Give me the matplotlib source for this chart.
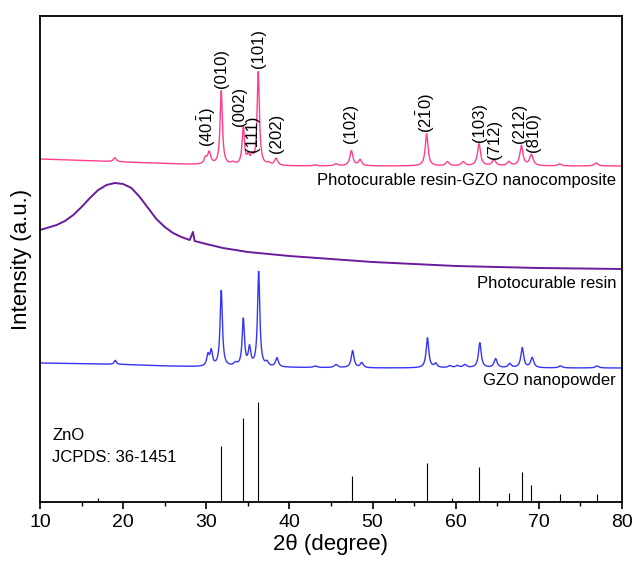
import numpy as np
import matplotlib
matplotlib.use('Agg')
import matplotlib.pyplot as plt
from matplotlib.ticker import MultipleLocator

plt.rcParams['font.family'] = ['Liberation Sans', 'DejaVu Sans']
plt.rcParams['mathtext.fontset'] = 'custom'
plt.rcParams['mathtext.rm'] = 'Liberation Sans'
plt.rcParams['mathtext.it'] = 'Liberation Sans'

# ZnO reference sticks (JCPDS 36-1451)
ref_pos = [17.0, 31.77, 34.42, 36.25, 47.54, 52.7, 56.6, 59.5, 62.86, 66.38, 67.96, 69.1, 72.56, 76.95]
ref_int = [4, 56, 84, 100, 26, 4, 39, 4, 35, 9, 30, 17, 8, 8]

# GZO nanopowder: background + peaks (center, height, fwhm)
gzo_bg_x = [10, 20, 25, 30, 40, 50, 80]
gzo_bg_y = [139, 137.5, 136, 135, 134.5, 134, 134]
gzo_pos = [19.05, 30.2, 30.6, 31.8, 33.5, 34.45, 35.2, 36.3, 37.3, 38.5, 43.1, 45.6, 47.6, 48.7,
           56.6, 57.6, 59.3, 60.2, 61.1, 62.9, 64.8, 66.5, 68.0, 69.2, 72.6, 77.0]
gzo_int = [4, 11, 15, 76, 3, 47, 18, 95, 4, 9, 1.5, 3, 17, 5,
           30, 4, 2, 2, 3, 25, 9, 4, 20, 10, 2, 2]
gzo_fwhm = [0.3, 0.35, 0.35, 0.33, 0.5, 0.33, 0.35, 0.33, 0.4, 0.4, 0.5, 0.5, 0.4, 0.4,
            0.38, 0.4, 0.5, 0.5, 0.5, 0.4, 0.45, 0.45, 0.4, 0.45, 0.5, 0.5]

# Photocurable resin (amorphous hump)
resin_x = [10, 12, 13, 14, 15, 16, 17, 18, 19, 20, 21, 22, 23, 24, 25, 26, 27, 28, 28.4, 28.6,
           30, 32, 35, 40, 45, 50, 55, 60, 65, 70, 75, 80]
resin_y = [272, 277, 281, 287, 295, 304, 312, 317, 319, 318, 314, 305, 294, 283, 275, 269, 265, 262, 270, 261,
           258, 254, 250, 246, 243, 240, 238, 236, 235, 234, 233.5, 233]

# Photocurable resin-GZO nanocomposite
comp_bg_x = [10, 20, 30, 40, 80]
comp_bg_y = [343, 340, 337, 336, 336]
comp_pos = [19.0, 29.9, 30.35, 31.8, 33.2, 34.45, 35.05, 35.5, 36.25, 37.5, 38.4, 43.1, 45.6, 47.45, 48.5,
            56.5, 59.0, 60.9, 62.8, 64.6, 66.4, 67.9, 69.1, 72.5, 76.9]
comp_int = [4, 6, 12, 74, 2, 38, 8, 7, 93, 2, 7, 1, 2, 15, 6,
            32, 4, 4, 22, 6, 4, 20, 11, 2, 3]
comp_fwhm = [0.4, 0.4, 0.45, 0.33, 0.5, 0.33, 0.35, 0.35, 0.33, 0.4, 0.45, 0.5, 0.5, 0.45, 0.45,
             0.4, 0.5, 0.5, 0.45, 0.5, 0.5, 0.45, 0.5, 0.5, 0.5]

# peak labels (text, x, bottom y)
hkl_text = [r'(40$\bar{\mathrm{1}}$)', '(010)', '(002)', '(111)', '(101)', '(202)', '(102)',
            r'(2$\bar{\mathrm{1}}$0)', '(103)', '(712)', '(212)', '(810)']
hkl_x = [30.09, 31.77, 34.05, 35.5, 36.3, 38.4, 47.4, 56.4, 62.9, 64.7, 67.7, 69.3]
hkl_y = [355, 414, 376, 350, 434, 349, 359, 369, 360, 343, 359, 350]


def profile(x, bx, by, pos, hts, wid):
    y = np.interp(x, bx, by)
    for c, h, w in zip(pos, hts, wid):
        y = y + h / (1 + ((x - c) / (w / 2)) ** 2)
    return y


x = np.linspace(10, 80, 4000)

fig = plt.figure(figsize=(6.34, 5.66), dpi=100)
ax = fig.add_axes([40 / 634, 64 / 566, 582 / 634, 486 / 566])

ax.vlines(ref_pos, 0, ref_int, color='black', lw=0.8)
ax.plot(x, profile(x, gzo_bg_x, gzo_bg_y, gzo_pos, gzo_int, gzo_fwhm), color='#3535f5', lw=1.0)
ax.plot(resin_x, resin_y, color='#6a1b9a', lw=1.4)
ax.plot(x, profile(x, comp_bg_x, comp_bg_y, comp_pos, comp_int, comp_fwhm), color='#ff3f8e', lw=1.0)

for t, px, py in zip(hkl_text, hkl_x, hkl_y):
    ax.text(px, py, t, rotation=90, ha='center', va='bottom', fontsize=12)

ax.text(79.3, 322, 'Photocurable resin-GZO nanocomposite', ha='right', va='center', fontsize=12)
ax.text(79.3, 219, 'Photocurable resin', ha='right', va='center', fontsize=12)
ax.text(79.3, 122, 'GZO nanopowder', ha='right', va='center', fontsize=12)
ax.text(11.5, 67, 'ZnO', ha='left', va='center', fontsize=12)
ax.text(11.5, 44, 'JCPDS: 36-1451', ha='left', va='center', fontsize=12)

ax.set_xlim(10, 80)
ax.set_ylim(0, 486)
ax.xaxis.set_major_locator(MultipleLocator(10))
ax.xaxis.set_minor_locator(MultipleLocator(5))
ax.tick_params(axis='x', which='major', direction='out', length=5, width=1.2, labelsize=14, top=False)
ax.tick_params(axis='x', which='minor', direction='out', length=3, width=1.0, top=False)
ax.set_yticks([])
for s in ax.spines.values():
    s.set_linewidth(1.3)

ax.set_xlabel('2θ (degree)', fontsize=16, labelpad=2)
ax.set_ylabel('Intensity (a.u.)', fontsize=16, labelpad=6)

fig.savefig('out.png', dpi=100)
